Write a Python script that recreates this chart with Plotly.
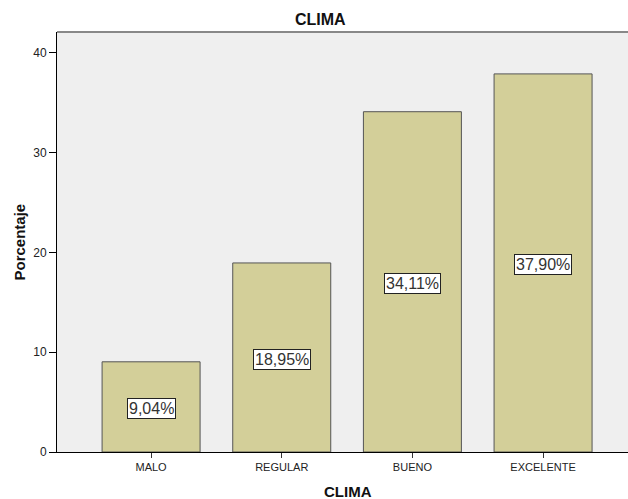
import plotly.graph_objects as go

categories = ["MALO", "REGULAR", "BUENO", "EXCELENTE"]
porcentajes = [9.04, 18.95, 34.11, 37.90]
y_ticks = [0, 10, 20, 30, 40]

FONT = "Liberation Sans, Arial, sans-serif"
W, H = 628, 499
L, R, T, B = 57, 0, 32, 47
pw, ph = W - L - R, H - T - B

def px_x(px):
    return (px - L) / pw

def px_y(py):
    return (H - B - py) / ph

fig = go.Figure()
fig.add_trace(go.Bar(
    x=categories,
    y=porcentajes,
    width=0.75,
    marker=dict(color="#d3cf99", line=dict(color="#555555", width=1)),
    hoverinfo="skip",
))

for c, v in zip(categories, porcentajes):
    fig.add_annotation(
        x=c, y=v / 2, xref="x", yref="y", yshift=-2,
        text=f"{v:.2f}%".replace(".", ","),
        showarrow=False,
        font=dict(family=FONT, size=16, color="#333333"),
        bgcolor="white", bordercolor="#222222", borderwidth=1, borderpad=1,
        xanchor="center", yanchor="middle",
    )

fig.add_annotation(text="<b>CLIMA</b>", xref="paper", yref="paper",
                   x=px_x(320.5), y=px_y(19), showarrow=False,
                   font=dict(family=FONT, size=16, color="#111111"),
                   xanchor="center", yanchor="middle")
fig.add_annotation(text="<b>CLIMA</b>", xref="paper", yref="paper",
                   x=px_x(348), y=px_y(491), showarrow=False,
                   font=dict(family=FONT, size=15, color="#111111"),
                   xanchor="center", yanchor="middle")
fig.add_annotation(text="<b>Porcentaje</b>", xref="paper", yref="paper",
                   x=px_x(18.5), y=0.5, showarrow=False, textangle=-90,
                   font=dict(family=FONT, size=15, color="#111111"),
                   xanchor="center", yanchor="middle")

fig.add_shape(type="line", xref="paper", yref="paper", x0=0, x1=1, y0=1, y1=1,
              line=dict(color="#888888", width=2))

fig.update_layout(
    width=W, height=H,
    margin=dict(l=L, r=R, t=T, b=B),
    paper_bgcolor="white",
    plot_bgcolor="#efefef",
    showlegend=False,
    font=dict(family=FONT),
    xaxis=dict(
        type="category",
        range=[-0.72, 3.65],
        showline=True, linecolor="black", linewidth=1,
        ticks="outside", ticklen=5, tickcolor="#333333",
        tickfont=dict(family=FONT, size=11, color="#222222"),
        showgrid=False, zeroline=False, fixedrange=True,
    ),
    yaxis=dict(
        range=[0, 42.1],
        tickvals=y_ticks,
        showline=True, linecolor="black", linewidth=1,
        ticks="outside", ticklen=7, tickcolor="black",
        tickfont=dict(family=FONT, size=12, color="#222222"),
        showgrid=False, zeroline=False, fixedrange=True,
    ),
)

fig.write_html("out.html")
